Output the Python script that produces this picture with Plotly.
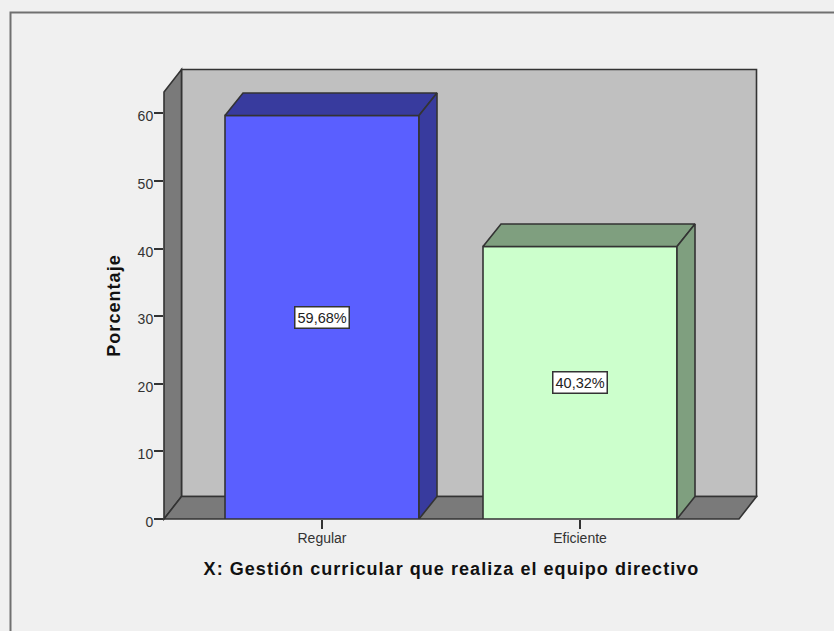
import plotly.graph_objects as go

categories = ["Regular", "Eficiente"]
percentages = [59.68, 40.32]
value_labels = ["59,68%", "40,32%"]
y_ticks = [0, 10, 20, 30, 40, 50, 60]
x_title = "X: Gestión curricular que realiza el equipo directivo"
y_title = "Porcentaje"

W, H = 834, 631
L, R, T, B = 164, 739, 92, 519   # front plane of the chart, in pixels
PX_X = 258.0          # pixels per category step
PX_Y = 6.76           # pixels per percentage point
X0 = 322              # pixel position of first category
FONT = "Liberation Sans"
EDGE = "#333333"

positions = list(range(len(categories)))
dx = 18 / PX_X        # 3D depth expressed in axis units
dy = 22.5 / PX_Y
half = 97 / PX_X
xmin = (L - X0) / PX_X
xmax = (R - X0) / PX_X
ymax = (B - T) / PX_Y

front_colors = ["#5a5fff", "#ccffcc"]
side_colors = ["#383b9e", "#7f9f7f"]

# Paper fractions for the walls and frame, which sit outside the front plane
fx = lambda px: (px - L) / (R - L)
fy = lambda py: (B - py) / (B - T)
DXP, DYP = 17.5 / (R - L), 22.5 / (B - T)


def wall(pts, fill):
    return dict(
        type="path", xref="paper", yref="paper", layer="below", fillcolor=fill,
        line=dict(color=EDGE, width=1.6),
        path="M " + " L ".join(f"{a},{b}" for a, b in pts) + " Z",
    )


shapes = [
    wall([(DXP, DYP), (1 + DXP, DYP), (1 + DXP, 1 + DYP), (DXP, 1 + DYP)], "#c0c0c0"),
    wall([(0, 0), (DXP, DYP), (DXP, 1 + DYP), (0, 1)], "#7a7a7a"),
    wall([(0, 0), (1, 0), (1 + DXP, DYP), (DXP, DYP)], "#7a7a7a"),
    dict(type="rect", xref="paper", yref="paper", layer="below",
         x0=fx(10.5), x1=fx(W + 20), y0=fy(H + 20), y1=fy(12.5),
         line=dict(color="#707070", width=2), fillcolor="rgba(0,0,0,0)"),
]

fig = go.Figure()

# Bar fronts
fig.add_trace(go.Bar(
    x=positions, y=percentages, width=2 * half,
    marker=dict(color=front_colors, line=dict(color=EDGE, width=1.6)),
    hoverinfo="skip", showlegend=False,
))

# 3D top and side of each bar
for p, v, c in zip(positions, percentages, side_colors):
    l, r = p - half, p + half
    fig.add_trace(go.Scatter(
        x=[l, r, r + dx, l + dx, l], y=[v, v, v + dy, v + dy, v],
        mode="lines", fill="toself", fillcolor=c, cliponaxis=False,
        line=dict(color=EDGE, width=1.6), hoverinfo="skip", showlegend=False,
    ))
    fig.add_trace(go.Scatter(
        x=[r, r + dx, r + dx, r, r], y=[0, dy, v + dy, v, 0],
        mode="lines", fill="toself", fillcolor=c, cliponaxis=False,
        line=dict(color=EDGE, width=1.6), hoverinfo="skip", showlegend=False,
    ))

# Value labels
annotations = [
    dict(x=p, y=v / 2, xref="x", yref="y", text=t, showarrow=False,
         bgcolor="white", bordercolor=EDGE, borderwidth=1.5, borderpad=2,
         font=dict(family=FONT, size=14.5, color="#222222"))
    for p, v, t in zip(positions, percentages, value_labels)
]

fig.update_layout(
    width=W, height=H, autosize=False,
    margin=dict(l=L, r=W - R, t=T, b=H - B, autoexpand=False),
    paper_bgcolor="#f0f0f0", plot_bgcolor="rgba(0,0,0,0)",
    font=dict(family=FONT, color="#222222"),
    shapes=shapes, annotations=annotations, showlegend=False,
    xaxis=dict(
        range=[xmin, xmax], tickmode="array", tickvals=positions, ticktext=categories,
        ticks="outside", ticklen=9, tickwidth=1.5, tickcolor=EDGE,
        ticklabelstandoff=-3,
        tickfont=dict(family=FONT, size=14, color="#333333"),
        showgrid=False, zeroline=False, showline=False,
        title=dict(text=f"<b>{x_title}</b>", standoff=17,
                   font=dict(family=FONT, size=18, color="#111111")),
    ),
    yaxis=dict(
        range=[0, ymax], tickmode="array", tickvals=y_ticks,
        ticks="outside", ticklen=9, tickwidth=1.5, tickcolor=EDGE,
        ticklabelstandoff=-2, ticklabelshift=3,
        tickfont=dict(family=FONT, size=14, color="#333333"),
        showgrid=False, zeroline=False, showline=False,
        title=dict(text=f"<b>{y_title}</b>", standoff=12,
                   font=dict(family=FONT, size=18, color="#111111")),
    ),
)

post = """
document.body.style.margin = '0';
document.body.style.overflow = 'hidden';
document.body.style.background = '#f0f0f0';
var s = document.createElement('style');
s.textContent = '.xtitle, .ytitle { letter-spacing: 1.05px; }';
document.head.appendChild(s);
"""
fig.write_html("out.html", config=dict(displayModeBar=False), post_script=post)
